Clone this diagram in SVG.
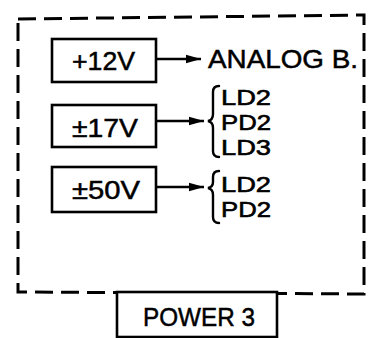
<svg xmlns="http://www.w3.org/2000/svg" width="382" height="338" viewBox="0 0 382 338">
<defs>
<style>
.box{fill:#fff;stroke:#000;stroke-width:2.6}
.t{font-family:"Liberation Sans",Arial,sans-serif;font-size:26px;fill:#000;stroke:#000;stroke-width:0.5}
.s{font-family:"Liberation Sans",Arial,sans-serif;font-size:22px;fill:#000;stroke:#000;stroke-width:0.6}
.ln{stroke:#000;stroke-width:2.4;fill:none}
.br{stroke:#000;stroke-width:2.4;fill:none;stroke-linecap:round}
</style>
<marker id="ah" markerWidth="16" markerHeight="10" refX="15" refY="5" orient="auto" markerUnits="userSpaceOnUse">
<path d="M0,0.8 L15,5 L0,9.2 Z" fill="#000"/>
</marker>
</defs>
<rect width="382" height="338" fill="#fff"/>
<g id="frame">
<path d="M18,19 L364,15 L364,294 L18,292 Z" fill="none" stroke="#000" stroke-width="3" stroke-dasharray="18 8"/>
</g>
<g id="power3">
<rect class="box" x="117" y="292" width="160" height="45"/>
<text class="t" x="143" y="326" textLength="112" lengthAdjust="spacingAndGlyphs">POWER 3</text>
</g>
<g id="v12">
<rect class="box" x="52" y="39" width="104" height="43"/>
<text class="t" x="72" y="70" textLength="63" lengthAdjust="spacingAndGlyphs">+12V</text>
</g>
<g id="v17">
<rect class="box" x="52" y="105" width="104" height="42"/>
<text class="t" x="72" y="137" textLength="66" lengthAdjust="spacingAndGlyphs">±17V</text>
</g>
<g id="v50">
<rect class="box" x="52" y="167" width="104" height="45"/>
<text class="t" x="72" y="199" textLength="68" lengthAdjust="spacingAndGlyphs">±50V</text>
</g>
<g id="analog">
<text class="t" x="208" y="68" textLength="150" lengthAdjust="spacingAndGlyphs">ANALOG B.</text>
</g>
<g id="loads17">
<path class="br" d="M219,86 Q213,86 213,92 L213,114 Q213,120 208,121 Q213,122 213,128 L213,151 Q213,157 219,157"/>
<text class="s" x="221" y="105" textLength="50" lengthAdjust="spacingAndGlyphs">LD2</text>
<text class="s" x="221" y="130" textLength="50" lengthAdjust="spacingAndGlyphs">PD2</text>
<text class="s" x="221" y="155" textLength="50" lengthAdjust="spacingAndGlyphs">LD3</text>
</g>
<g id="loads50">
<path class="br" d="M219,171 Q213,171 213,177 L213,182 Q213,187 208,188 Q213,189 213,195 L213,217 Q213,223 219,223"/>
<text class="s" x="221" y="192" textLength="50" lengthAdjust="spacingAndGlyphs">LD2</text>
<text class="s" x="221" y="217" textLength="50" lengthAdjust="spacingAndGlyphs">PD2</text>
</g>
<g id="connectors">
<line class="ln" x1="156" y1="59" x2="201" y2="59" marker-end="url(#ah)"/>
<line class="ln" x1="156" y1="121" x2="204" y2="121" marker-end="url(#ah)"/>
<line class="ln" x1="156" y1="187" x2="204" y2="187" marker-end="url(#ah)"/>
</g>
</svg>
